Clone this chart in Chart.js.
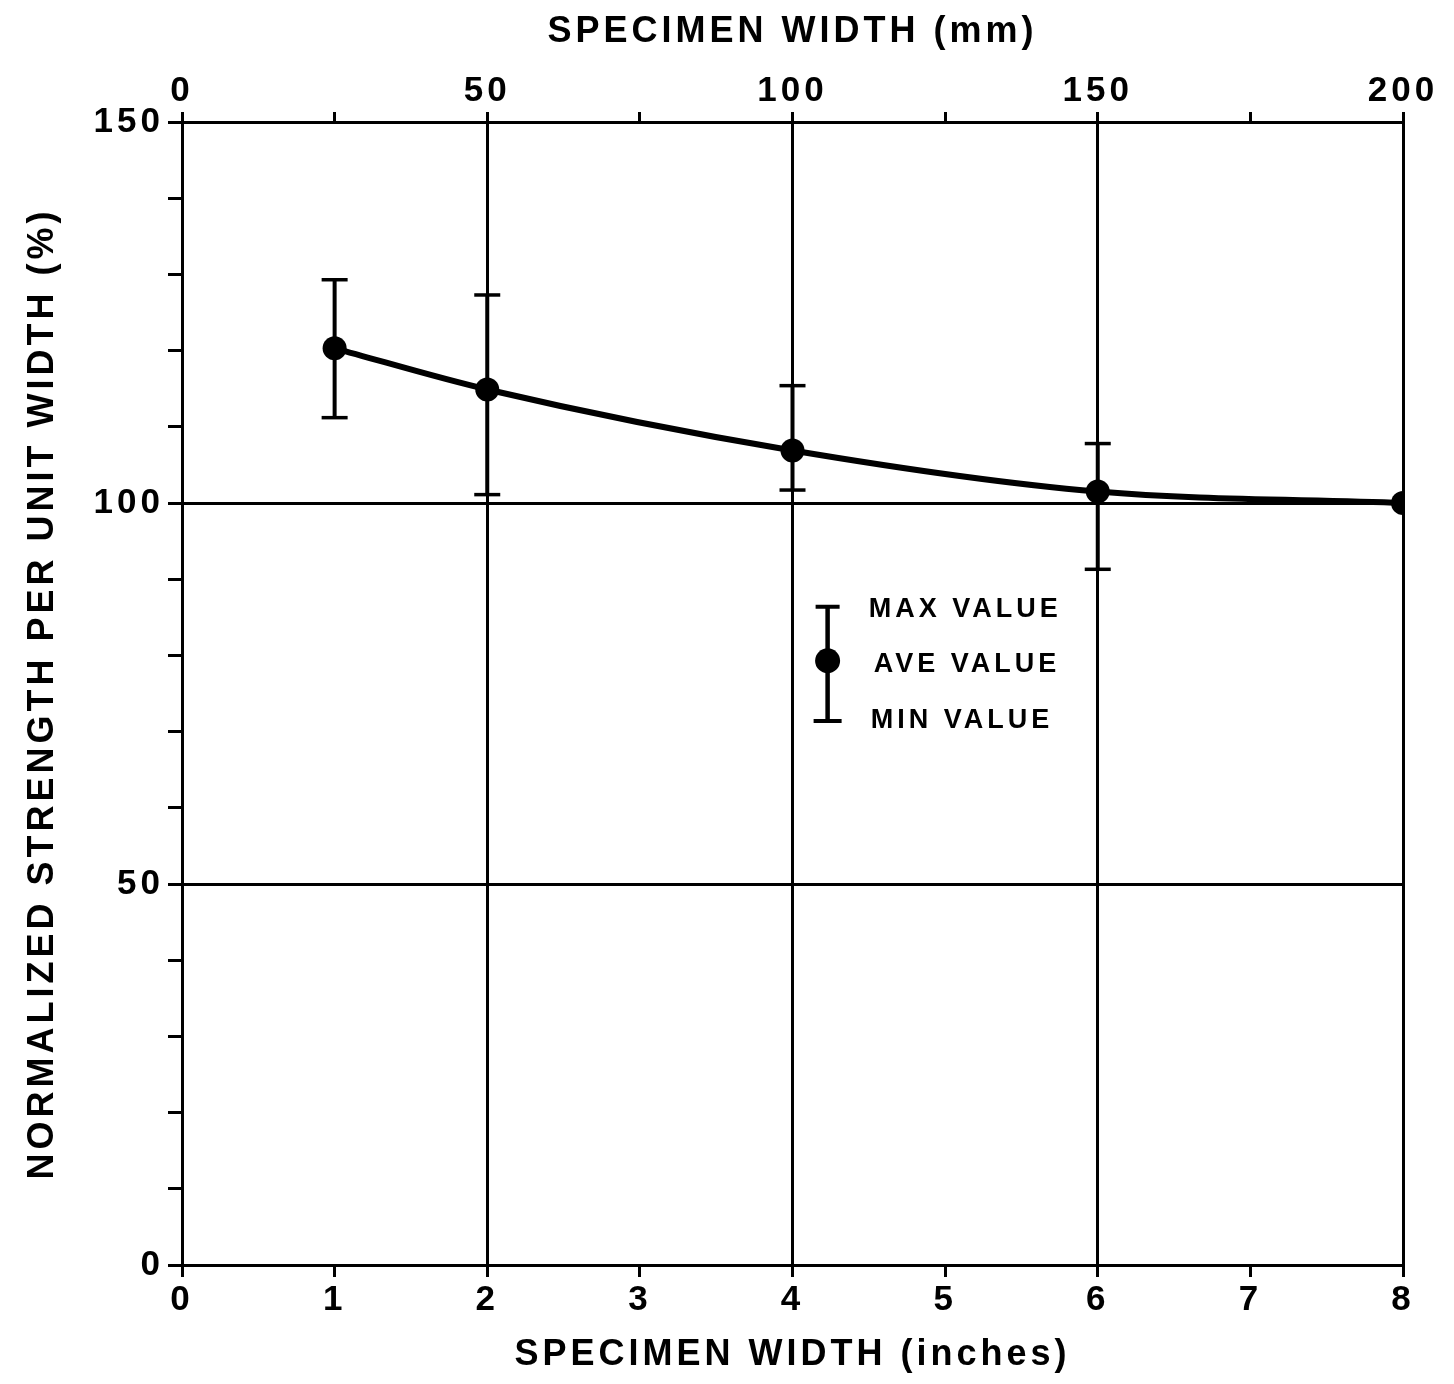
<!DOCTYPE html>
<html>
<head>
<meta charset="utf-8">
<script src="https://cdn.jsdelivr.net/npm/chart.js@4.4.1/dist/chart.umd.min.js"></script>
<style>
  html, body { margin: 0; padding: 0; background: #ffffff; overflow: hidden; }
  #wrap { width: 1454px; height: 1384px; position: relative; }
</style>
</head>
<body>
<div id="wrap"><canvas id="c"></canvas></div>
<script>
// ---- data ----
const widthInches = [1, 2, 4, 6, 8];
const aveValues   = [120.3, 114.9, 106.9, 101.5, 100.0];
const maxValues   = [129.3, 127.3, 115.4, 107.8, null];
const minValues   = [111.2, 101.1, 101.7, 91.3, null];

const bottomTickValues = [0, 1, 2, 3, 4, 5, 6, 7, 8];
const gridInches       = [0, 2, 4, 6, 8];
const topTickLabels    = [0, 50, 100, 150, 200];
const yTickLabels      = [0, 50, 100, 150];

const legendLabels = ['MAX VALUE', 'AVE VALUE', 'MIN VALUE'];
// legend anchor in data units
const legendAnchor = { x: 4.23, yMax: 86.4, yAve: 79.3, yMin: 71.4, textX: 4.50 };

const FONT = "'Liberation Sans', Arial, Helvetica, sans-serif";
const BLACK = '#000000';

// ---- error bar datasets built from the arrays ----
const errorSets = [];
widthInches.forEach((xv, i) => {
  if (maxValues[i] == null || minValues[i] == null) return;
  errorSets.push({
    type: 'line',
    data: [{ x: xv, y: minValues[i] }, { x: xv, y: maxValues[i] }],
    borderColor: BLACK,
    borderWidth: 4,
    pointStyle: 'line',
    pointRadius: 13,
    pointBorderWidth: 3.5,
    pointBorderColor: BLACK,
    pointBackgroundColor: BLACK,
    tension: 0,
    order: 2
  });
});

const letterSpacingPlugin = {
  id: 'letterSpacing',
  beforeLayout(chart) { chart.ctx.letterSpacing = '4px'; },
  beforeDraw(chart) { chart.ctx.letterSpacing = '4px'; }
};

const legendPlugin = {
  id: 'errLegend',
  afterDatasetsDraw(chart) {
    const { ctx, scales } = chart;
    const x = scales.x, y = scales.y;
    const px = x.getPixelForValue(legendAnchor.x);
    const yMaxP = y.getPixelForValue(legendAnchor.yMax);
    const yAveP = y.getPixelForValue(legendAnchor.yAve);
    const yMinP = y.getPixelForValue(legendAnchor.yMin);
    const tx = x.getPixelForValue(legendAnchor.textX);
    ctx.save();
    ctx.strokeStyle = BLACK;
    ctx.fillStyle = BLACK;
    ctx.lineWidth = 4.5;
    ctx.beginPath();
    ctx.moveTo(px, yMaxP); ctx.lineTo(px, yMinP);
    ctx.stroke();
    ctx.lineWidth = 4;
    ctx.beginPath();
    ctx.moveTo(px - 12, yMaxP); ctx.lineTo(px + 12, yMaxP);
    ctx.moveTo(px - 14, yMinP); ctx.lineTo(px + 14, yMinP);
    ctx.stroke();
    ctx.beginPath();
    ctx.arc(px, yAveP, 12.5, 0, Math.PI * 2);
    ctx.fill();
    ctx.letterSpacing = '4px';
    ctx.font = "bold 27px " + FONT;
    ctx.textBaseline = 'middle';
    ctx.textAlign = 'left';
    const ys = [yMaxP + 3, yAveP + 4, yMinP];
    legendLabels.forEach((t, i) => ctx.fillText(t, tx + (i === 1 ? 5 : (i === 2 ? 2 : 0)), ys[i]));
    ctx.restore();
  }
};

const ctx = document.getElementById('c').getContext('2d');
new Chart(ctx, {
  type: 'line',
  data: {
    datasets: [
      {
        data: widthInches.map((xv, i) => ({ x: xv, y: aveValues[i] })),
        borderColor: BLACK,
        borderWidth: 6,
        pointRadius: 12,
        pointBackgroundColor: BLACK,
        pointBorderColor: BLACK,
        pointBorderWidth: 0,
        cubicInterpolationMode: 'monotone',
        order: 0
      },
      ...errorSets
    ]
  },
  options: {
    responsive: true,
    maintainAspectRatio: false,
    animation: false,
    events: [],
    layout: { padding: { left: 0, right: 51, top: 0, bottom: 0 } },
    plugins: { legend: { display: false }, tooltip: { enabled: false } },
    scales: {
      x: {
        type: 'linear',
        position: 'bottom',
        min: 0, max: 8,
        afterFit(s) { s.height = 119; },
        afterBuildTicks(s) { s.ticks = bottomTickValues.map(v => ({ value: v })); },
        ticks: {
          autoSkip: false,
          color: BLACK,
          padding: 2,
          maxRotation: 0,
          font: { family: FONT, size: 35, weight: 'bold' },
          callback: v => String(v)
        },
        grid: {
          color: c => gridInches.includes(c.tick && c.tick.value) ? BLACK : 'rgba(0,0,0,0)',
          tickColor: BLACK,
          lineWidth: 3,
          tickWidth: 3,
          tickLength: 12,
          drawOnChartArea: true
        },
        border: { display: true, color: BLACK, width: 3 },
        title: {
          display: true,
          text: 'SPECIMEN WIDTH (inches)',
          color: BLACK,
          font: { family: FONT, size: 36, weight: 'bold' },
          padding: { top: 0, bottom: 7 }
        }
      },
      x2: {
        type: 'linear',
        position: 'top',
        min: 0, max: 200,
        afterFit(s) { s.height = 122; },
        ticks: {
          stepSize: 25,
          autoSkip: false,
          color: BLACK,
          padding: 0,
          maxRotation: 0,
          font: { family: FONT, size: 35, weight: 'bold' },
          callback: v => topTickLabels.includes(v) ? String(v) : ''
        },
        grid: {
          drawOnChartArea: false,
          color: BLACK,
          tickColor: BLACK,
          lineWidth: 3,
          tickWidth: 3,
          tickLength: 10
        },
        border: { display: true, color: BLACK, width: 3 },
        title: {
          display: true,
          text: 'SPECIMEN WIDTH (mm)',
          color: BLACK,
          font: { family: FONT, size: 36, weight: 'bold' },
          padding: { top: 10, bottom: 0 }
        }
      },
      y: {
        type: 'linear',
        position: 'left',
        min: 0, max: 150,
        afterFit(s) { s.width = 182; },
        ticks: {
          stepSize: 10,
          autoSkip: false,
          color: BLACK,
          padding: 4,
          font: { family: FONT, size: 35, weight: 'bold' },
          callback: v => yTickLabels.includes(v) ? String(v) : ''
        },
        grid: {
          color: c => yTickLabels.includes(c.tick && c.tick.value) ? BLACK : 'rgba(0,0,0,0)',
          tickColor: BLACK,
          lineWidth: 3,
          tickWidth: 3,
          tickLength: 14
        },
        border: { display: true, color: BLACK, width: 3 },
        title: {
          display: true,
          text: 'NORMALIZED STRENGTH PER UNIT WIDTH (%)',
          color: BLACK,
          font: { family: FONT, size: 36, weight: 'bold' },
          padding: { top: 21, bottom: 0 }
        }
      }
    }
  },
  plugins: [letterSpacingPlugin, legendPlugin]
});
</script>
</body>
</html>
